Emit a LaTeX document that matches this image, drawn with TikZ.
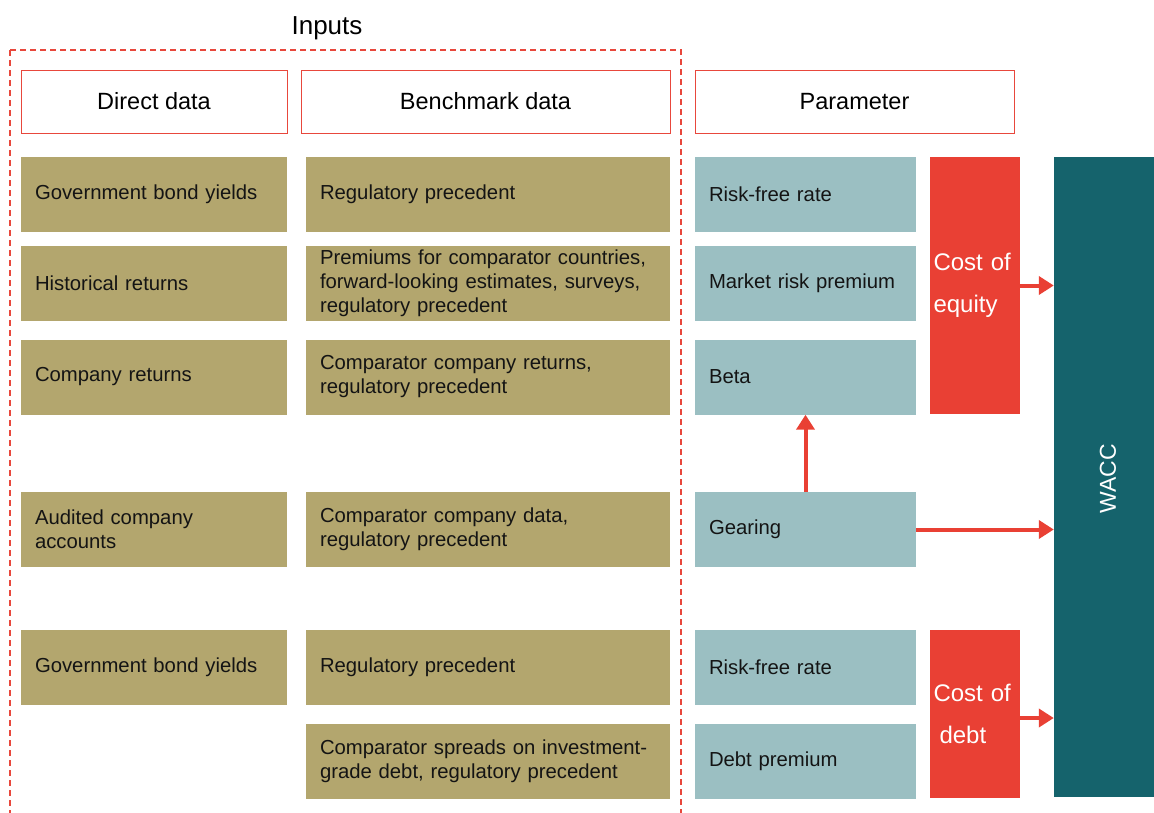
\documentclass[tikz,border=0pt]{standalone}
\usepackage{fontspec}
\setmainfont{Liberation Sans}
\usetikzlibrary{arrows.meta}
\definecolor{olivebox}{RGB}{179,166,110}
\definecolor{parambox}{RGB}{155,191,194}
\definecolor{redbox}{RGB}{233,64,52}
\definecolor{tealbox}{RGB}{21,99,108}
\definecolor{hdrline}{RGB}{232,71,60}
\begin{document}
\begin{tikzpicture}[x=1pt,y=-1pt,
  base/.style={font=\fontsize{20.3}{24}\selectfont, text=black!92, align=left, inner xsep=14pt, inner ysep=0pt},
  inbox/.style={base, fill=olivebox, minimum height=75pt},
  dbox/.style={inbox, text width=238pt},
  bbox/.style={inbox, text width=336pt},
  pbox/.style={base, fill=parambox, minimum height=75pt, text width=193pt},
  hdr/.style={draw=hdrline, line width=0.8pt, fill=white, minimum height=63pt, font=\fontsize{23.5}{26}\selectfont, inner sep=0pt},
  costbox/.style={fill=redbox, text=white, align=left, text width=82pt, inner xsep=4pt, font=\fontsize{24}{42}\selectfont, minimum width=89pt},
  conn/.style={draw=redbox, line width=4pt, -{Triangle[length=15pt,width=18pt]}}
]
\useasboundingbox (0,0) rectangle (1154,812);
% dashed inputs frame
\draw[hdrline, line width=1.6pt, dash pattern=on 6pt off 4pt] (10,50) -- (681,50) -- (681,830) (10,50) -- (10,830);
\node[font=\fontsize{26}{30}\selectfont] (inputs) at (327,28) {Inputs};
% headers
\node[hdr, minimum width=266pt] (hd) at (154,101.5) {Direct data};
\node[hdr, minimum width=369pt] (hb) at (485.5,101.5) {Benchmark data};
\node[hdr, minimum width=319pt] (hp) at (854.5,101.5) {Parameter};
% direct data
\node[dbox] (d1) at (154,194.5) {Government bond yields};
\node[dbox] (d2) at (154,283.5) {Historical returns};
\node[dbox] (d3) at (154,377) {Company returns};
\node[dbox] (d4) at (154,529.5) {Audited company\\accounts};
\node[dbox] (d5) at (154,667.5) {Government bond yields};
% benchmark data
\node[bbox] (b1) at (488,194.5) {Regulatory precedent};
\node[bbox] (b2) at (488,283.5) {Premiums for comparator countries,\\forward-looking estimates, surveys,\\regulatory precedent};
\node[bbox] (b3) at (488,377) {Comparator company returns,\\regulatory precedent};
\node[bbox] (b4) at (488,529.5) {Comparator company data,\\regulatory precedent};
\node[bbox] (b5) at (488,667.5) {Regulatory precedent};
\node[bbox] (b6) at (488,761) {Comparator spreads on investment-\\grade debt, regulatory precedent};
% parameters
\node[pbox] (p1) at (805.5,194.5) {Risk-free rate};
\node[pbox] (p2) at (805.5,283.5) {Market risk premium};
\node[pbox] (p3) at (805.5,377) {Beta};
\node[pbox] (p4) at (805.5,529.5) {Gearing};
\node[pbox] (p5) at (805.5,667.5) {Risk-free rate};
\node[pbox] (p6) at (805.5,761) {Debt premium};
% costs
\node[costbox, minimum height=257pt] (ce) at (974.5,285.5) {Cost of\\equity};
\node[costbox, minimum height=168pt] (cd) at (974.5,714) {Cost of\\\hspace*{6pt}debt};
% WACC
\node[fill=tealbox, minimum width=108pt, minimum height=640pt, inner sep=0pt] (wacc) at (1108,477) {};
\node[text=white, rotate=90, font=\fontsize{23}{26}\selectfont] (wacclbl) at (1108,479) {WACC};
% connectors
\draw[conn] (ce.east) -- (wacc.west |- ce.east);
\draw[conn] (p4.east) -- (wacc.west |- p4.east);
\draw[conn] (cd.east |- 0,718) -- (wacc.west |- 0,718);
\draw[conn] (p4.north) -- (p3.south);
\end{tikzpicture}
\end{document}
